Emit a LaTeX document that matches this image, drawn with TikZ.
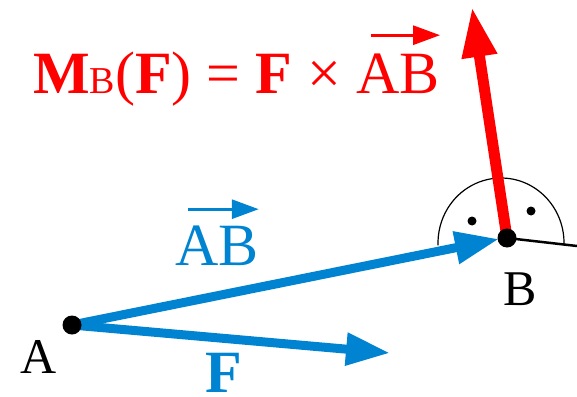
\documentclass[tikz,border=0pt]{standalone}
\usepackage{fontspec}
\setmainfont{Liberation Serif}
\usetikzlibrary{positioning,arrows.meta}
\definecolor{vecblue}{HTML}{0084D1}
\definecolor{vecred}{HTML}{FF0000}

\begin{document}
\begin{tikzpicture}[x=1pt,y=1pt,
    vec/.style={line width=9pt,-{Triangle[length=44pt,width=31pt]}},
    smallvec/.style={line width=3pt,-{Triangle[length=27pt,width=19pt]}},
    pt/.style={circle,fill=black,inner sep=0pt,minimum size=19pt},
    ptsmall/.style={circle,fill=black,inner sep=0pt,minimum size=9pt},
    lab/.style={inner sep=0pt,anchor=base west,font=\fontsize{50}{56}\selectfont},
    big/.style={inner sep=0pt,anchor=base west,font=\fontsize{60}{66}\selectfont}]
  \useasboundingbox (0,0) rectangle (577,-396);
  % points and arrow ends
  \coordinate (A) at (72,-325);
  \coordinate (B) at (507,-238);
  \coordinate (tipAB) at (499,-239);
  \coordinate (tipF) at (390,-353);
  \coordinate (tipM) at (472,-7);
  \coordinate (lineEnd) at (577,-246);
  \coordinate (arcC) at (501,-243);
  % angle mark
  \draw[line width=1.2pt] (arcC) ++(-2:63pt and 65pt) arc[start angle=-2,end angle=182,x radius=63pt,y radius=65pt];
  \node[ptsmall] (dotL) at (472,-221) {};
  \node[ptsmall] (dotR) at (531,-211) {};
  \draw[line width=2.5pt] (B) -- (lineEnd);
  % vectors
  \draw[vec,vecblue] (A) -- (tipF);
  \draw[vec,vecblue] (A) -- (tipAB);
  \draw[vecred,line width=11pt,-{Triangle[length=50pt,width=33pt]}] (B) -- (tipM);
  \node[pt] (ptA) at (A) {};
  \node[pt] (ptB) at (B) {};
  % labels
  \node[lab] (labA) at (20,-373) {A};
  \node[lab] (labB) at (503,-305) {B};
  \node[big,text=vecblue] (labAB) at (175,-265) {AB};
  \draw[smallvec,vecblue] ([xshift=13pt,yshift=16pt]labAB.north west) -- ([yshift=16pt]labAB.north east);
  \node[big,text=vecblue] (labF) at (205,-392) {\textbf{F}};
  \node[big,text=vecred] (mom) at (33,-93) {\textbf{M}{\fontsize{38}{40}\selectfont B}(\textbf{F}) = \textbf{F} ×};
  \node[big,text=vecred,right=15pt of mom.base east,anchor=base west] (momAB) {AB};
  \draw[smallvec,vecred] ([xshift=15pt,yshift=18pt]momAB.north west) -- ([yshift=18pt]momAB.north east);
\end{tikzpicture}
\end{document}
